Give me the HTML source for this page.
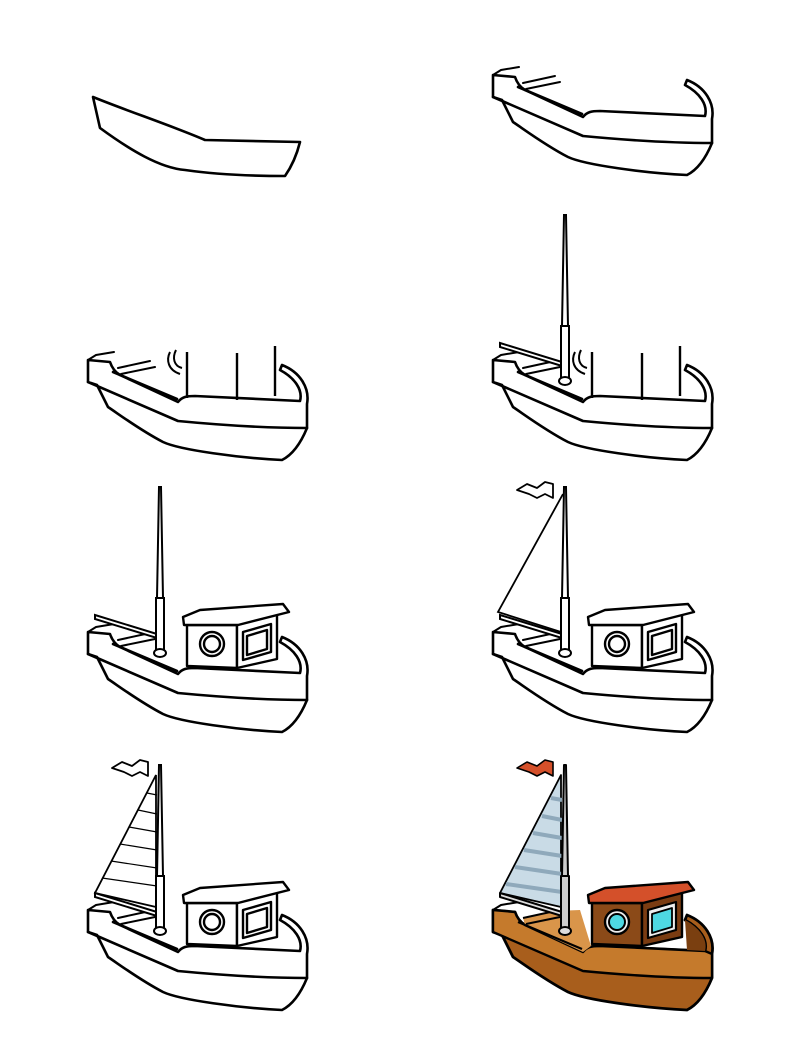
<!DOCTYPE html>
<html><head><meta charset="utf-8"><style>
html,body{margin:0;padding:0;background:#fff;}
svg{display:block;}
</style></head><body>
<svg width="800" height="1059" viewBox="0 0 800 1059" xmlns="http://www.w3.org/2000/svg">
<defs>
<g id="hull" fill="none" stroke="#000" stroke-width="2.6" stroke-linejoin="round" stroke-linecap="round">
  <path d="M88,360 L110,362 C112,368 115,372 120,375 L178,402 C182,397 186,396 195,396 C240,398 280,400 300,401 C303,390 295,378 280,370 L282,365 C300,372 310,388 307,404 L307,428 C300,445 292,455 282,460 C240,458 180,450 163,442 C140,430 120,415 108,407 L97,385 L88,382 Z" fill="#fff"/>
  <path d="M88,382 L178,421 C230,426 270,428 307,428"/>
  <path d="M113,372 L177,399"/>
  <path d="M88,360 L96,355 L114,352" stroke-width="2"/>
  <path d="M118,368 L150,361 M121,374 L155,367" stroke-width="2"/>
</g>
<g id="cabinLines" fill="none" stroke="#000" stroke-width="2.4">
  <path d="M187,352 L187,398 M237,353 L237,400 M275,346 L275,396"/>
  <path d="M170,352 C166,360 168,370 180,374 M176,350 C172,358 174,366 182,368" stroke-width="2"/>
</g>
<g id="mast" fill="#fff" stroke="#000" stroke-width="2">
  <path d="M95,343 L157,362 L157,366 L95,347 Z"/>
  <path d="M159,215 L161,215 L163,326 L157,326 Z"/>
  <rect x="156" y="326" width="8" height="54"/>
  <ellipse cx="160" cy="381" rx="6" ry="4"/>
</g>
<g id="cabin" fill="#fff" stroke="#000" stroke-width="2.4" stroke-linejoin="round">
  <path d="M187,353 L187,394 L237,396 L237,353 Z"/>
  <path d="M237,353 L277,342 L277,387 L237,396 Z"/>
  <path d="M183,345 L200,338 L283,332 L289,340 L238,353 L184,353 Z"/>
  <circle cx="212" cy="372" r="12"/>
  <circle cx="212" cy="372" r="8"/>
  <path d="M243,360 L271,352 L271,380 L243,388 Z"/>
  <path d="M247,364 L267,358 L267,377 L247,383 Z"/>
</g>
<g id="flag" fill="#fff" stroke="#000" stroke-width="1.8" stroke-linejoin="round">
  <path d="M112,218 L122,212 L132,216 L140,210 L148,212 L148,226 L140,222 L132,226 L124,222 Z"/>
</g>
</defs>

<!-- panel 1 -->
<g fill="none" stroke="#000" stroke-width="2.6" stroke-linejoin="round">
  <path d="M93,97 L100,128 C130,150 160,168 185,170 C220,175 255,176 285,176 C292,166 297,154 300,142 L205,140 C170,125 130,112 93,97 Z" fill="#fff"/>
</g>

<!-- panel 2 -->
<g transform="translate(405,-285)"><use href="#hull"/></g>

<!-- panel 3 -->
<use href="#hull"/>
<use href="#cabinLines"/>

<!-- panel 4 -->
<g transform="translate(405,0)">
  <use href="#hull"/><use href="#cabinLines"/><use href="#mast"/>
</g>

<!-- panel 5 -->
<g transform="translate(0,272)">
  <use href="#hull"/><use href="#mast"/><use href="#cabin"/>
</g>

<!-- panel 6 -->
<g transform="translate(405,272)">
  <use href="#hull"/>
  <path d="M158,222 L93,340 L156,360" fill="none" stroke="#000" stroke-width="1.8"/>
  <use href="#mast"/><use href="#cabin"/><use href="#flag"/>
</g>

<!-- panel 7 -->
<g transform="translate(0,550)">
  <use href="#hull"/>
  <path d="M156,225 L95,343 L156,357 Z" fill="#fff" stroke="#000" stroke-width="1.8"/>
  <g stroke="#000" stroke-width="1.2">
    <path d="M147,243 L157,245 M138,260 L157,264 M129,277 L157,282 M120,294 L157,300 M111,311 L157,318 M102,328 L157,336"/>
  </g>
  <use href="#mast"/><use href="#cabin"/><use href="#flag"/>
</g>

<!-- panel 8 colored -->
<g transform="translate(405,550)" stroke="#000" stroke-linejoin="round">
  <path d="M88,360 L110,362 C112,368 115,372 120,375 L178,402 C182,397 186,396 195,396 C240,398 280,400 300,401 C303,390 295,378 280,370 L282,365 C300,372 310,388 307,404 L307,428 C300,445 292,455 282,460 C240,458 180,450 163,442 C140,430 120,415 108,407 L97,385 L88,382 Z" fill="#a85e1c" stroke-width="2.8"/>
  <path d="M88,360 L110,362 C112,368 115,372 120,375 L178,402 C182,397 186,396 195,396 C240,398 280,400 300,401 L307,404 L307,428 C270,428 230,426 178,421 L88,382 Z" fill="#c57a2c" stroke-width="2.4"/>
  <path d="M120,375 L178,402 L186,396 L175,360 L150,361 L118,368 Z" fill="#d9954a" stroke="none"/>
  <path d="M113,372 L177,399" fill="none" stroke-width="2.2"/>
  <path d="M118,368 L150,361 M121,374 L155,367" stroke-width="2" fill="none"/>
  <path d="M280,370 C295,378 303,390 300,401 L282,400 Z" fill="#7a3f10" stroke="none"/>
  <path d="M88,360 L96,355 L114,352" fill="none" stroke-width="2"/>
  <path d="M156,225 L95,343 L156,357 Z" fill="#c9dbe6" stroke-width="1.8"/>
  <g stroke="#8fa9bb" stroke-width="4">
    <path d="M146,248 L157,250 M137,266 L157,270 M128,283 L157,288 M119,300 L157,306 M110,317 L157,324 M101,334 L157,342"/>
  </g>
  <path d="M95,343 L157,362 L157,366 L95,347 Z" fill="#ddd" stroke-width="2"/>
  <path d="M159,215 L161,215 L163,326 L157,326 Z" fill="#ccc" stroke-width="2"/>
  <rect x="156" y="326" width="8" height="54" fill="#ccc" stroke-width="2"/>
  <ellipse cx="160" cy="381" rx="6" ry="4" fill="#ddd" stroke-width="2"/>
  <path d="M187,353 L187,394 L237,396 L237,353 Z" fill="#8b4a18" stroke-width="2.4"/>
  <path d="M237,353 L277,342 L277,387 L237,396 Z" fill="#7a3c12" stroke-width="2.4"/>
  <path d="M183,345 L200,338 L283,332 L289,340 L238,353 L184,353 Z" fill="#d4502a" stroke-width="2.4"/>
  <circle cx="212" cy="372" r="12" fill="#eee" stroke-width="2.4"/>
  <circle cx="212" cy="372" r="8" fill="#4ed8e2" stroke-width="2"/>
  <path d="M243,360 L271,352 L271,380 L243,388 Z" fill="#eee" stroke-width="2.2"/>
  <path d="M247,364 L267,358 L267,377 L247,383 Z" fill="#4ed8e2" stroke-width="1.8"/>
  <path d="M112,218 L122,212 L132,216 L140,210 L148,212 L148,226 L140,222 L132,226 L124,222 Z" fill="#d4502a" stroke-width="1.6"/>
</g>
</svg>
</body></html>
